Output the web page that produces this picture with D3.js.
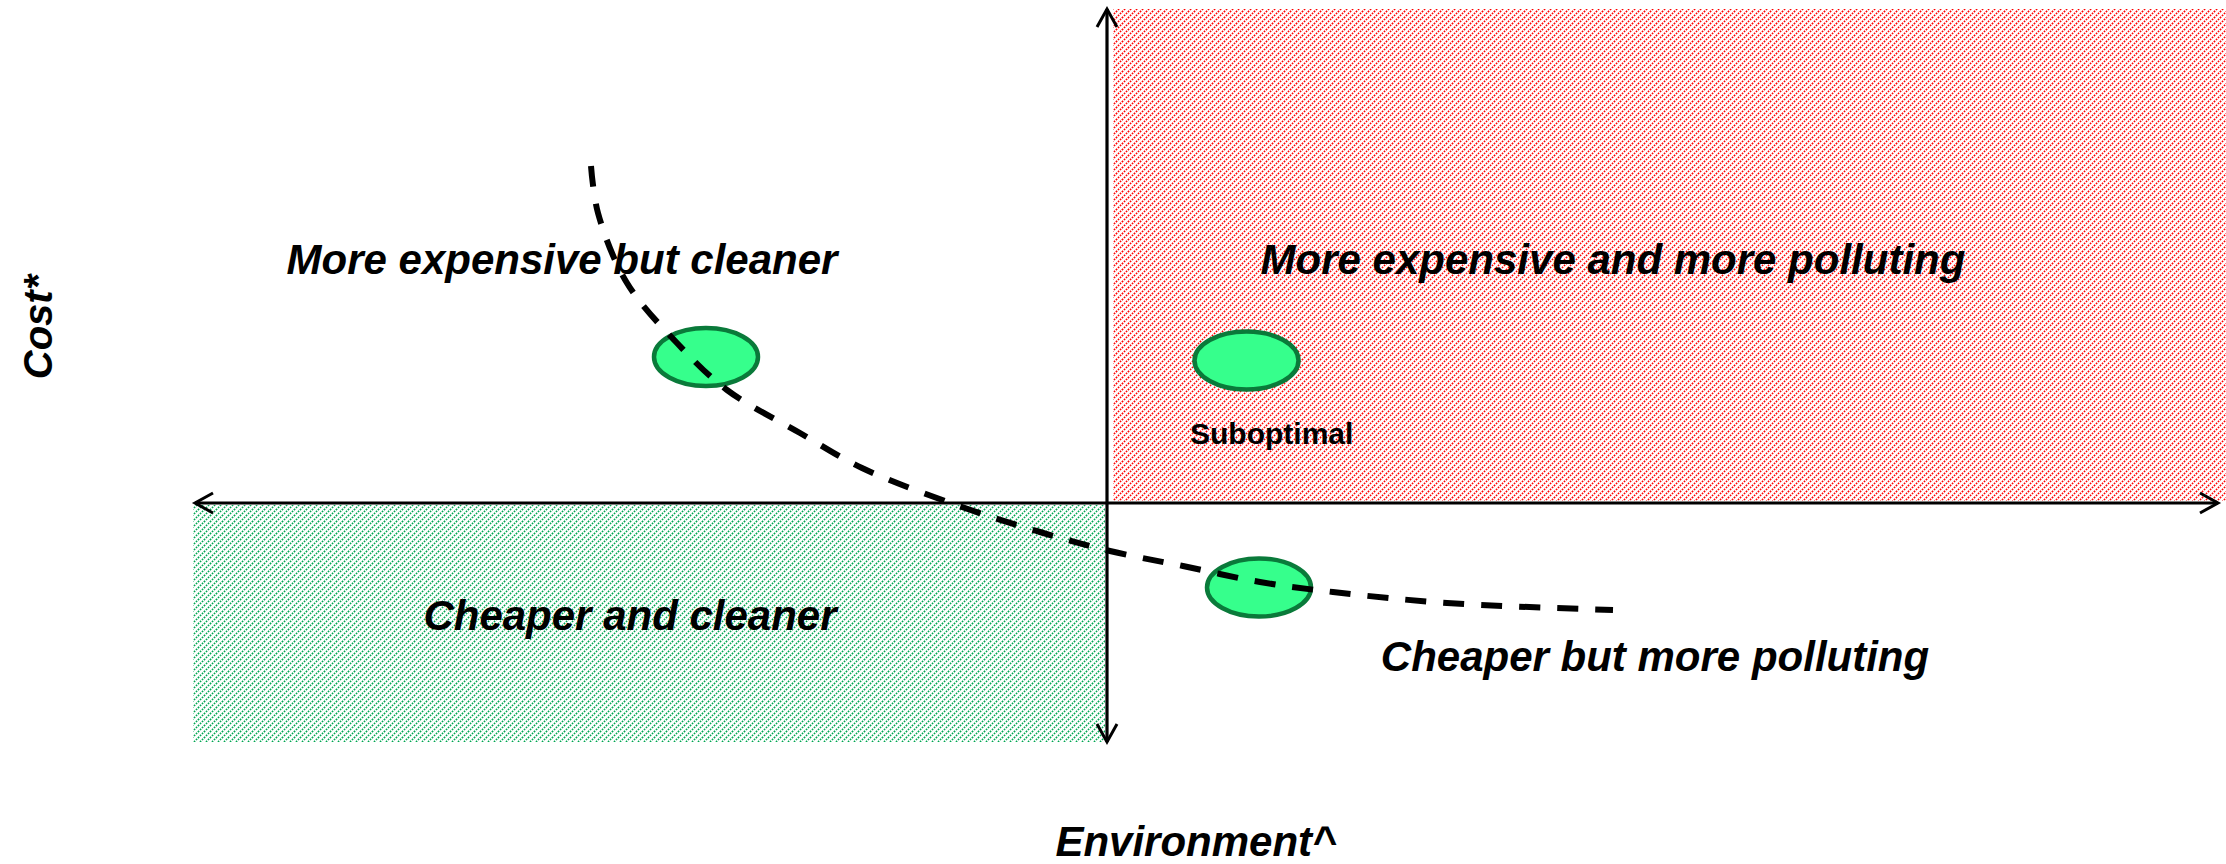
<!DOCTYPE html>
<html>
<head>
<meta charset="utf-8">
<script src="https://cdn.jsdelivr.net/npm/d3@7"></script>
<style>
  body { margin: 0; background: #fff; }
  text { font-family: "Liberation Sans", Arial, sans-serif; font-weight: bold; fill: #000; }
</style>
</head>
<body>
<div id="chart"></div>
<script>
(function () {

  // trade-off frontier (environment impact vs cost), in chart units
  var curveEnv  = [-5.16, -5.09, -4.80, -4.30, -3.80, -3.07, -2.45, -1.45, -0.67, 0.03, 0.76, 1.53, 2.26, 3.40, 5.06]
  var curveCost = [ 3.37,  2.90,  2.20,  1.60,  1.13,  0.70,  0.35, -0.04, -0.29, -0.48, -0.63, -0.79, -0.89, -1.00, -1.07]

  // options shown as ellipses
  var optionEnv  = [-4.01, 1.395, 1.52]
  var optionCost = [ 1.46, 1.425, -0.845]

  var quadrantLabels = ["More expensive but cleaner", "More expensive and more polluting",
                        "Cheaper and cleaner", "Cheaper but more polluting"]
  var quadrantEnv  = [-5.45, 5.06, -4.77, 5.48]
  var quadrantCost = [ 2.29, 2.29, -1.27, -1.68]

  var noteLabel = "Suboptimal"
  var noteEnv = 0.83, noteCost = 0.59

  var xTitle = "Environment^", yTitle = "Cost*"

  var width = 2226, height = 864

  var svg = d3.select("#chart").append("svg")
    .attr("width", width)
    .attr("height", height)

  var x = d3.scaleLinear().domain([-9.12, 11.11]).range([195, 2218])
  var y = d3.scaleLinear().domain([-2.39, 4.94]).range([742, 9])

  var defs = svg.append("defs")

  function hatch(id, color) {
    defs.append("pattern")
      .attr("id", id)
      .attr("patternUnits", "userSpaceOnUse")
      .attr("width", 6).attr("height", 6)
      .append("path")
      .attr("d", "M-1,1 l2,-2 M0,6 l6,-6 M5,7 l2,-2")
      .attr("stroke", color)
      .attr("stroke-width", 1.6)
      .attr("stroke-dasharray", "1.6,1.2")
  }
  hatch("hatch-red", "#ff0000")
  hatch("hatch-green", "#00a651")

  defs.append("marker")
    .attr("id", "arrow")
    .attr("markerUnits", "userSpaceOnUse")
    .attr("viewBox", "-20 -12 24 24")
    .attr("markerWidth", 24).attr("markerHeight", 24)
    .attr("refX", 0).attr("refY", 0)
    .attr("orient", "auto")
    .append("path")
    .attr("d", "M-18,-10 L0,0 L-18,10")
    .attr("fill", "none")
    .attr("stroke", "#000")
    .attr("stroke-width", 3)

  // quadrant fills
  svg.append("rect")
    .attr("x", x(0.06)).attr("y", y(4.94))
    .attr("width", x(11.19) - x(0.06)).attr("height", y(0.02) - y(4.94))
    .attr("fill", "url(#hatch-red)")

  svg.append("rect")
    .attr("x", x(-9.14)).attr("y", y(-0.02))
    .attr("width", x(-0.02) - x(-9.14)).attr("height", y(-2.39) - y(-0.02))
    .attr("fill", "url(#hatch-green)")

  // axes: four arms from the origin
  var arms = [[-9.12, 0], [11.11, 0], [0, 4.94], [0, -2.39]]
  svg.selectAll(".arm")
    .data(arms)
    .enter().append("line")
    .attr("class", "arm")
    .attr("x1", x(0)).attr("y1", y(0))
    .attr("x2", function (d) { return x(d[0]) })
    .attr("y2", function (d) { return y(d[1]) })
    .attr("stroke", "#000")
    .attr("stroke-width", 3.2)
    .attr("marker-end", "url(#arrow)")

  // quadrant labels
  svg.selectAll(".qlabel")
    .data(quadrantLabels)
    .enter().append("text")
    .attr("class", "qlabel")
    .attr("x", function (d, i) { return x(quadrantEnv[i]) })
    .attr("y", function (d, i) { return y(quadrantCost[i]) })
    .attr("text-anchor", "middle")
    .attr("font-size", 42)
    .attr("font-style", "italic")
    .text(function (d) { return d })

  svg.append("text")
    .attr("x", x(noteEnv)).attr("y", y(noteCost))
    .attr("font-size", 30)
    .text(noteLabel)

  // options
  svg.selectAll(".option")
    .data(optionEnv)
    .enter().append("ellipse")
    .attr("class", "option")
    .attr("cx", function (d) { return x(d) })
    .attr("cy", function (d, i) { return y(optionCost[i]) })
    .attr("rx", 52).attr("ry", 29)
    .attr("fill", "#36ff8c")
    .attr("stroke", "#0a7a3a")
    .attr("stroke-width", 4.5)

  // frontier
  var line = d3.line()
    .x(function (d) { return x(d) })
    .y(function (d, i) { return y(curveCost[i]) })
    .curve(d3.curveCatmullRom)

  svg.append("path")
    .datum(curveEnv)
    .attr("d", line)
    .attr("fill", "none")
    .attr("stroke", "#000")
    .attr("stroke-width", 6)
    .attr("stroke-dasharray", "21,17")

  // axis titles
  svg.append("text")
    .attr("x", 1196).attr("y", 856)
    .attr("text-anchor", "middle")
    .attr("font-size", 42)
    .attr("font-style", "italic")
    .text(xTitle)

  svg.append("text")
    .attr("transform", "translate(52,327) rotate(-90)")
    .attr("text-anchor", "middle")
    .attr("font-size", 40)
    .attr("font-style", "italic")
    .text(yTitle)

})()
</script>
</body>
</html>
